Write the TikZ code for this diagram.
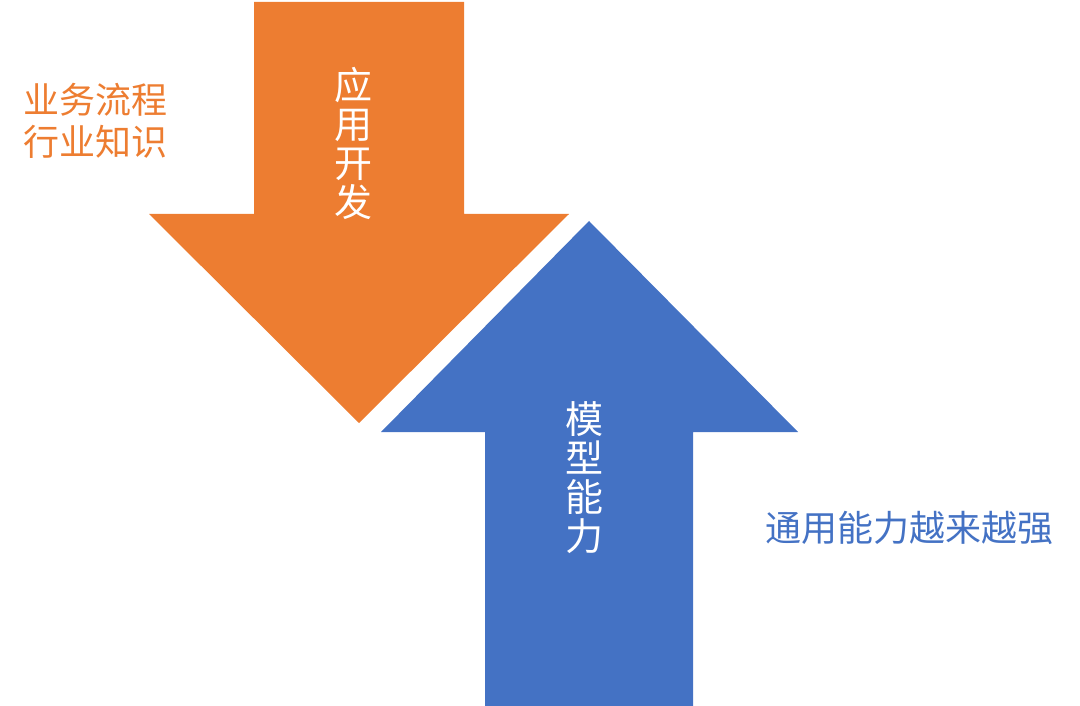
\documentclass[tikz,border=0pt]{standalone}
\usepackage{fontspec}
\newfontfamily\cjk{Noto Sans CJK SC}
\definecolor{aorange}{HTML}{ED7D31}
\definecolor{ablue}{HTML}{4472C4}
\begin{document}
\begin{tikzpicture}[x=1pt,y=-1pt,
  vlabel/.style={text=white,font=\cjk\fontsize{38}{39}\selectfont,align=center,inner sep=0pt},
  side/.style={font=\cjk\fontsize{36}{42}\selectfont,inner sep=0pt,anchor=west}]
\useasboundingbox (0,0) rectangle (1080,706);
% orange down arrow
\fill[aorange] (254,2) -- (464,2) -- (464,214) -- (569,214) -- (359,423) -- (149,214) -- (254,214) -- cycle;
% blue up arrow
\fill[ablue] (485,706) -- (485,432) -- (381,432) -- (589,221) -- (798,432) -- (693,432) -- (693,706) -- cycle;
\node[vlabel] (app) at (353.5,143) {应\\用\\开\\发};
\node[vlabel] (model) at (584,478) {模\\型\\能\\力};
\node[side,text=aorange,align=left] (biz) at (23,121) {业务流程\\行业知识};
\node[side,text=ablue] (gen) at (765,528) {通用能力越来越强};
\end{tikzpicture}
\end{document}
